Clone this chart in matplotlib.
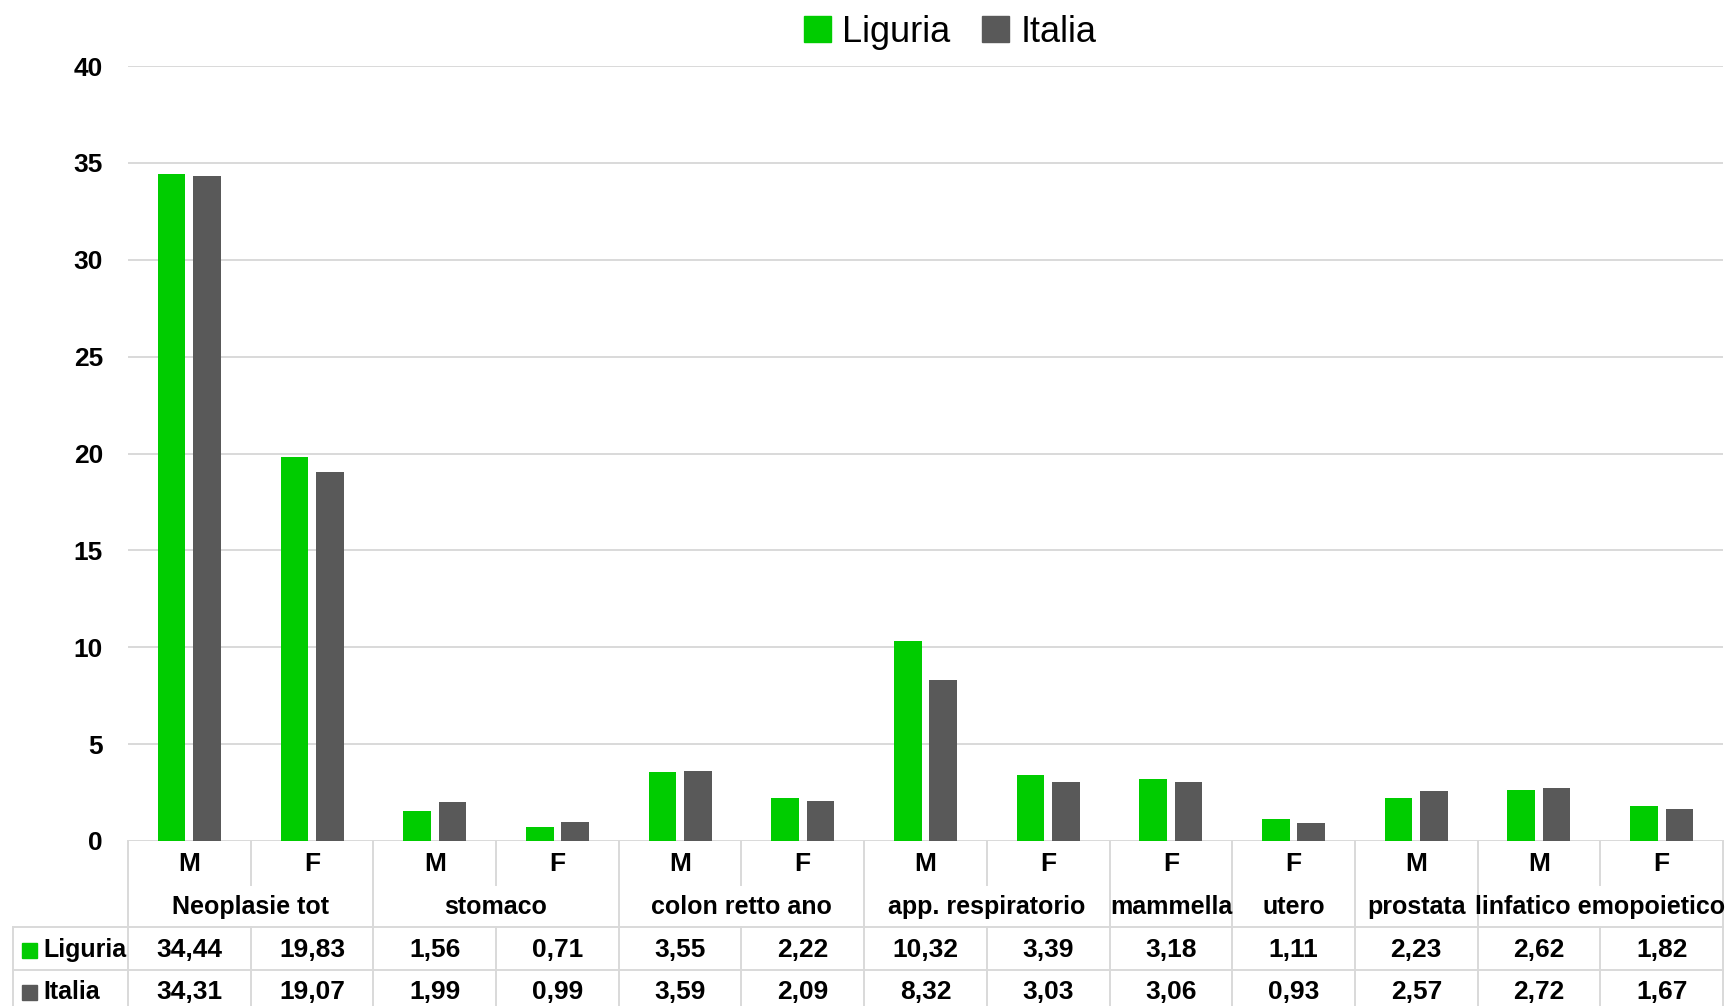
import matplotlib
matplotlib.use("Agg")
import matplotlib.pyplot as plt
from matplotlib.patches import Patch, Rectangle
from matplotlib.transforms import blended_transform_factory

plt.rcParams['font.family'] = ['Liberation Sans', 'DejaVu Sans']

# Data
sexes = ["M", "F", "M", "F", "M", "F", "M", "F", "F", "F", "M", "M", "F"]
groups = ["Neoplasie tot", "stomaco", "colon retto ano", "app. respiratorio",
          "mammella", "utero", "prostata", "linfatico emopoietico"]
group_sizes = [2, 2, 2, 2, 1, 1, 1, 2]
liguria = [34.44, 19.83, 1.56, 0.71, 3.55, 2.22, 10.32, 3.39, 3.18, 1.11, 2.23, 2.62, 1.82]
italia = [34.31, 19.07, 1.99, 0.99, 3.59, 2.09, 8.32, 3.03, 3.06, 0.93, 2.57, 2.72, 1.67]
series_names = ["Liguria", "Italia"]
yticks = [0, 5, 10, 15, 20, 25, 30, 35, 40]

GREEN = "#00CC00"
GREY = "#595959"
LINE = "#D9D9D9"

W, H = 1734, 1006
fig = plt.figure(figsize=(W / 100, H / 100), dpi=100)
left_px, right_px, top_px, zero_px = 128, 1723, 66, 841
ax = fig.add_axes([left_px / W, 1 - zero_px / H, (right_px - left_px) / W, (zero_px - top_px) / H])

n = len(sexes)
xs = list(range(n))
bw = 0.225
off = 0.144
ax.bar([x - off for x in xs], liguria, width=bw, color=GREEN, zorder=3)
ax.bar([x + off for x in xs], italia, width=bw, color=GREY, zorder=3)

ax.set_xlim(-0.5, n - 0.5)
ax.set_ylim(0, 40)
ax.set_yticks(yticks)
ax.set_yticklabels([str(t) for t in yticks], fontsize=19, fontweight="bold")
ax.tick_params(axis="y", length=0, pad=18)
ax.set_xticks([])
ax.yaxis.grid(True, color=LINE, linewidth=1.4, zorder=0)
ax.set_axisbelow(True)
for s in ax.spines.values():
    s.set_visible(False)

# Data table under the axis
tr = blended_transform_factory(ax.transData, fig.transFigure)
def fy(px):
    return 1 - px / H

label_left = (13 - left_px) / ((right_px - left_px) / n) - 0.5
y_sex_bot = 885
y_row1 = 927
y_row2 = 970
y_bot = 1013

def vline(x, y0, y1):
    ax.plot([x, x], [fy(y0), fy(y1)], color=LINE, lw=1.4, transform=tr, clip_on=False)

def hline(x0, x1, y):
    ax.plot([x0, x1], [fy(y), fy(y)], color=LINE, lw=1.4, transform=tr, clip_on=False)

# group boundaries and inner boundaries
bounds = [0]
for g in group_sizes:
    bounds.append(bounds[-1] + g)
for k in range(n + 1):
    x = k - 0.5
    if k in bounds:
        vline(x, zero_px, y_bot)
    else:
        vline(x, zero_px, y_sex_bot)
        vline(x, y_row1, y_bot)
vline(label_left, y_row1, y_bot)
hline(label_left, n - 0.5, y_row1)
hline(label_left, n - 0.5, y_row2)
hline(label_left, n - 0.5, y_bot)

txt_kw = dict(transform=tr, ha="center", va="center", fontsize=19, fontweight="bold", clip_on=False)
for i, s in enumerate(sexes):
    ax.text(i, fy(864), s, **txt_kw)
for gi, g in enumerate(groups):
    c = (bounds[gi] + bounds[gi + 1] - 1) / 2
    ax.text(c, fy(907), g, **dict(txt_kw, fontsize=18))
for i in range(n):
    ax.text(i, fy(950), f"{liguria[i]:.2f}".replace(".", ","), **txt_kw)
    ax.text(i, fy(992), f"{italia[i]:.2f}".replace(".", ","), **txt_kw)

# row headers with colour keys
unit = (right_px - left_px) / n
for name, col, ypx in [(series_names[0], GREEN, 950), (series_names[1], GREY, 992)]:
    kx = label_left + 9 / unit
    ax.add_patch(Rectangle((kx, fy(ypx + 7.5)), 15 / unit, 15 / H, color=col,
                           transform=tr, clip_on=False))
    ax.text(label_left + 30 / unit, fy(ypx), name, transform=tr, ha="left", va="center",
            fontsize=18, fontweight="bold", clip_on=False)

handles = [Patch(color=GREEN), Patch(color=GREY)]
fig.legend(handles, series_names, loc="center", bbox_to_anchor=(950 / W, 1 - 32 / H),
           ncol=2, frameon=False, fontsize=26, handlelength=0.75, handleheight=0.75,
           handletextpad=0.3, columnspacing=0.9, borderpad=0)

fig.savefig("out.png", dpi=100)
